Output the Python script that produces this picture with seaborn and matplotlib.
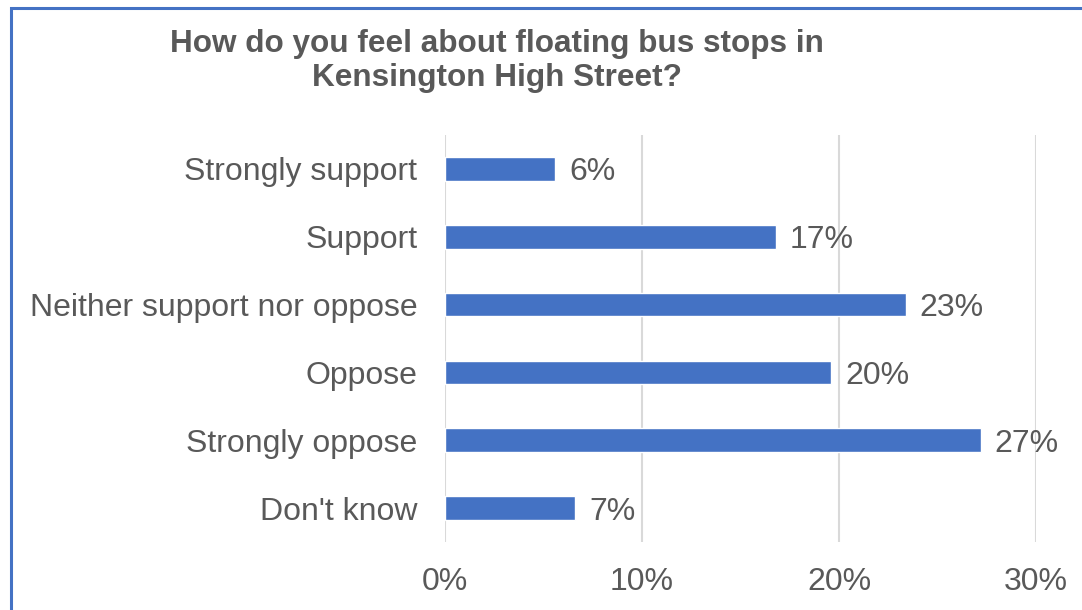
import matplotlib
matplotlib.use("Agg")
import matplotlib.pyplot as plt
from matplotlib.patches import Rectangle
from matplotlib.ticker import FuncFormatter
import seaborn as sns
import pandas as pd

# Survey responses (share of respondents, %)
responses = ["Strongly support", "Support", "Neither support nor oppose",
             "Oppose", "Strongly oppose", "Don't know"]
shares = [5.6, 16.8, 23.4, 19.6, 27.2, 6.6]
x_ticks = [0, 10, 20, 30]

title = "How do you feel about floating bus stops in\nKensington High Street?"

BAR = "#4472C4"
TEXT = "#595959"
GRID = "#D9D9D9"

sns.set_theme(style="white")
plt.rcParams["font.family"] = ["Liberation Sans", "DejaVu Sans"]

df = pd.DataFrame({"response": responses, "share": shares})

fig = plt.figure(figsize=(10.82, 6.10), dpi=100)
ax = fig.add_axes([445 / 1082, 1 - 542 / 610, (1036 - 445) / 1082, (542 - 135) / 610])

sns.barplot(data=df, y="response", x="share", orient="h", color=BAR,
            width=0.35, saturation=1, ax=ax, zorder=3)

ax.set_xlim(0, 30)
ax.set_ylim(len(responses) - 0.5, -0.5)
ax.set_xticks(x_ticks)
ax.xaxis.set_major_formatter(FuncFormatter(lambda v, _: f"{v:.0f}%"))
ax.grid(axis="x", color=GRID, linewidth=1.5, zorder=0)
ax.grid(axis="y", visible=False)
for s in ax.spines.values():
    s.set_visible(False)
ax.set_xlabel("")
ax.set_ylabel("")
ax.tick_params(axis="x", length=0, pad=18, labelsize=23, labelcolor=TEXT)
ax.tick_params(axis="y", length=0, pad=20, labelsize=23, labelcolor=TEXT)

for container in ax.containers:
    texts = ax.bar_label(container, labels=[f"{v:.0f}%" for v in shares],
                         padding=10, fontsize=23, color=TEXT)
    for t in texts:
        t.set_verticalalignment("center_baseline")

fig.text(0.459, 1 - 61 / 610, title, ha="center", va="center",
         fontsize=22.7, fontweight="bold", color=TEXT, linespacing=1.2)

# Chart frame
fig.patches.append(Rectangle((11 / 1082, -0.1), 1.2, 1 - 8 / 610 + 0.1,
                             transform=fig.transFigure, fill=False,
                             edgecolor=BAR, linewidth=2.2))

fig.savefig("out.png", dpi=100)
